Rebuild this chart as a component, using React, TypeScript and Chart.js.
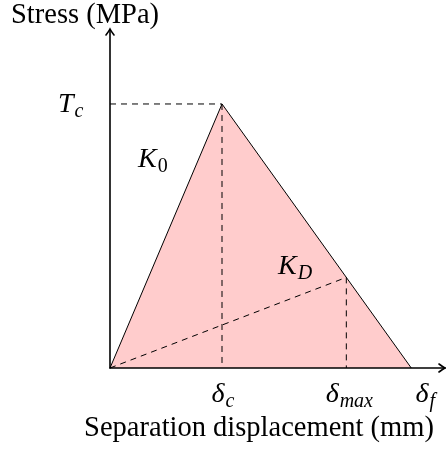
import React, { useEffect, useRef } from "react";
import { Chart, registerables } from "chart.js";

Chart.register(...registerables);

// Characteristic values of the bilinear traction-separation law (normalised units)
const deltaC = 1.0; // displacement at peak traction
const deltaMax = 2.11; // maximum displacement reached (unloading point)
const deltaF = 2.69; // final (failure) displacement
const Tc = 1.0; // peak traction
const axisMaxX = 3.0;
const axisMaxY = 1.284;

// Traction on the softening branch at deltaMax
const Tmax = (Tc * (deltaF - deltaMax)) / (deltaF - deltaC);

const lawX = [0, deltaC, deltaF];
const lawY = [0, Tc, 0];

const xAxisLabel = "Separation displacement (mm)";
const yAxisLabel = "Stress (MPa)";

const FONT = '"Liberation Serif", "Times New Roman", serif';

function drawMath(
  ctx: CanvasRenderingContext2D,
  main: string,
  sub: string,
  x: number,
  baseline: number,
  align: "left" | "center",
  subItalic: boolean
) {
  ctx.font = `italic 28px ${FONT}`;
  const w1 = ctx.measureText(main).width;
  const subFont = `${subItalic ? "italic " : ""}20px ${FONT}`;
  ctx.font = subFont;
  const w2 = ctx.measureText(sub).width;
  const start = align === "center" ? x - (w1 + w2 + 1) / 2 : x;
  ctx.font = `italic 28px ${FONT}`;
  ctx.fillText(main, start, baseline);
  ctx.font = subFont;
  ctx.fillText(sub, start + w1 + 1, baseline + 5);
}

const axesPlugin = {
  id: "tslAxes",
  afterDatasetsDraw(chart: any) {
    const ctx: CanvasRenderingContext2D = chart.ctx;
    const xs = chart.scales.x;
    const ys = chart.scales.y;
    const x0 = xs.getPixelForValue(0);
    const y0 = ys.getPixelForValue(0);
    const xEnd = xs.getPixelForValue(axisMaxX);
    const yEnd = ys.getPixelForValue(axisMaxY);
    ctx.save();
    ctx.strokeStyle = "#000";
    ctx.lineWidth = 1.6;
    ctx.lineCap = "round";
    ctx.setLineDash([]);
    // y axis
    ctx.beginPath();
    ctx.moveTo(x0, y0);
    ctx.lineTo(x0, yEnd + 0.5);
    ctx.stroke();
    ctx.beginPath();
    ctx.moveTo(x0 - 4, yEnd + 6);
    ctx.quadraticCurveTo(x0 - 1, yEnd + 2, x0, yEnd);
    ctx.quadraticCurveTo(x0 + 1, yEnd + 2, x0 + 4, yEnd + 6);
    ctx.stroke();
    // x axis
    ctx.beginPath();
    ctx.moveTo(x0, y0);
    ctx.lineTo(xEnd - 1, y0);
    ctx.stroke();
    ctx.beginPath();
    ctx.moveTo(xEnd - 7, y0 - 4);
    ctx.quadraticCurveTo(xEnd - 3, y0 - 1, xEnd - 1, y0);
    ctx.quadraticCurveTo(xEnd - 3, y0 + 1, xEnd - 7, y0 + 4);
    ctx.stroke();
    ctx.restore();
  },
  afterDraw(chart: any) {
    const ctx: CanvasRenderingContext2D = chart.ctx;
    const xs = chart.scales.x;
    const ys = chart.scales.y;
    const px = (v: number) => xs.getPixelForValue(v);
    const py = (v: number) => ys.getPixelForValue(v);
    const x0 = px(0);
    const y0 = py(0);
    ctx.save();
    ctx.fillStyle = "#000";
    ctx.textBaseline = "alphabetic";
    ctx.textAlign = "left";

    // axis titles
    ctx.font = `28.5px ${FONT}`;
    ctx.fillText(yAxisLabel, x0 - 99, py(axisMaxY) - 6);
    ctx.textAlign = "center";
    ctx.fillText(xAxisLabel, px(deltaC) + 37, y0 + 68);
    ctx.textAlign = "left";

    // traction label
    drawMath(ctx, "T", "c", x0 - 52, py(Tc) + 8, "left", true);
    // stiffness labels
    drawMath(ctx, "K", "0", px(deltaC * 0.25), py(Tc * 0.76), "left", false);
    drawMath(ctx, "K", "D", px(1.5), py(Tmax) - 3, "left", true);
    // displacement labels
    drawMath(ctx, "δ", "c", px(deltaC) + 1, y0 + 34, "center", true);
    drawMath(ctx, "δ", "max", px(deltaMax) + 3, y0 + 34, "center", true);
    drawMath(ctx, "δ", "f", px(deltaF) + 14, y0 + 34, "center", true);
    ctx.restore();
  },
};

export default function App() {
  const ref = useRef<HTMLCanvasElement | null>(null);
  useEffect(() => {
    if (!ref.current) return;
    const dashed = {
      borderColor: "#000",
      borderWidth: 1,
      borderDash: [6, 5],
      pointRadius: 0,
      showLine: true,
      fill: false,
      order: 1,
    };
    const chart = new Chart(ref.current, {
      type: "scatter",
      data: {
        datasets: [
          {
            ...dashed,
            data: [
              { x: 0, y: Tc },
              { x: deltaC, y: Tc },
            ],
          },
          {
            ...dashed,
            data: [
              { x: deltaC, y: Tc },
              { x: deltaC, y: 0 },
            ],
          },
          {
            ...dashed,
            data: [
              { x: 0, y: 0 },
              { x: deltaMax, y: Tmax },
            ],
          },
          {
            ...dashed,
            data: [
              { x: deltaMax, y: Tmax },
              { x: deltaMax, y: 0 },
            ],
          },
          {
            data: lawX.map((x, i) => ({ x, y: lawY[i] })),
            showLine: true,
            borderColor: "#000",
            borderWidth: 1,
            backgroundColor: "rgb(255,204,204)",
            fill: "origin",
            pointRadius: 0,
            tension: 0,
            order: 10,
          },
        ],
      },
      options: {
        responsive: false,
        animation: false,
        devicePixelRatio: 1,
        layout: { padding: { left: 110, right: 0, top: 29, bottom: 81 } },
        plugins: {
          legend: { display: false },
          tooltip: { enabled: false },
          title: { display: false },
        },
        scales: {
          x: { type: "linear", min: 0, max: axisMaxX, display: false },
          y: { type: "linear", min: 0, max: axisMaxY, display: false },
        },
      },
      plugins: [axesPlugin],
    });
    return () => chart.destroy();
  }, []);
  return (
    <div style={{ position: "fixed", left: 0, top: 0, width: 446, height: 449, background: "#fff" }}>
      <canvas ref={ref} width={446} height={449} style={{ display: "block" }} />
    </div>
  );
}
